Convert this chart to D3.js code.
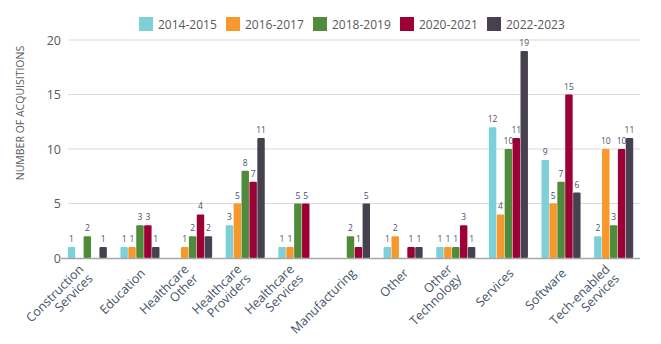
<!DOCTYPE html>
<html>
<head>
<meta charset="utf-8">
<script src="https://cdn.jsdelivr.net/npm/d3@7"></script>
<style>
  body { margin: 0; background: #fff; }
  text { font-family: "Open Sans", "Noto Sans", sans-serif; }
</style>
</head>
<body>
<svg></svg>
<script>
const WIDTH = 661;
const HEIGHT = 344;

// categories, with the line breaks used on the axis
const categories = ['Construction Services', 'Education', 'Healthcare Other',
  'Healthcare Providers', 'Healthcare Services', 'Manufacturing', 'Other',
  'Other Technology', 'Services', 'Software', 'Tech-enabled Services'];
const categoryLines = [['Construction', 'Services'], ['Education'], ['Healthcare', 'Other'],
  ['Healthcare', 'Providers'], ['Healthcare', 'Services'], ['Manufacturing'], ['Other'],
  ['Other', 'Technology'], ['Services'], ['Software'], ['Tech-enabled', 'Services']];

const periods = ['2014-2015', '2016-2017', '2018-2019', '2020-2021', '2022-2023'];
const colors = ['#7dd0d7', '#f7982d', '#508a3b', '#9c0034', '#47414f'];

// one array per period, in category order
const v2014 = [1, 1, 0, 3, 1, 0, 1, 1, 12, 9, 2];
const v2016 = [0, 1, 1, 5, 1, 0, 2, 1, 4, 5, 10];
const v2018 = [2, 3, 2, 8, 5, 2, 0, 1, 10, 7, 3];
const v2020 = [0, 3, 4, 7, 5, 1, 1, 3, 11, 15, 10];
const v2022 = [1, 1, 2, 11, 0, 5, 1, 1, 19, 6, 11];
const series = [v2014, v2016, v2018, v2020, v2022];

const yTicks = [0, 5, 10, 15, 20];

const svg = d3.select('svg')
    .attr('width', WIDTH)
    .attr('height', HEIGHT);

const x = d3.scaleBand()
    .domain(categories)
    .range([61, 640])
    .paddingInner(0.24)
    .paddingOuter(0.12);

const xSub = d3.scaleBand()
    .domain(periods)
    .range([0, x.bandwidth()])
    .padding(0.06);

const y = d3.scaleLinear()
    .domain([0, 20])
    .range([258, 40]);

// gridlines
svg.append('g')
  .selectAll('line')
  .data(yTicks.filter((d) => d > 0))
  .join('line')
    .attr('x1', 68)
    .attr('x2', 640)
    .attr('y1', (d) => y(d))
    .attr('y2', (d) => y(d))
    .attr('stroke', '#d9d9d9')
    .attr('stroke-width', 1.2);

// y axis labels
const yAxis = svg.append('g')
    .attr('transform', 'translate(61,0)')
    .call(d3.axisLeft(y).tickValues(yTicks).tickSize(0).tickPadding(0));
yAxis.select('.domain').remove();
yAxis.selectAll('text')
    .attr('font-size', 12.5)
    .attr('fill', '#595959');

svg.append('text')
    .attr('transform', 'translate(24,113) rotate(-90)')
    .attr('text-anchor', 'middle')
    .attr('font-size', 10.5)
    .attr('fill', '#595959')
    .text('NUMBER OF ACQUISITIONS');

// bars
const rows = categories.map((c, i) => ({
  cat: c,
  vals: periods.map((p, j) => ({ period: p, value: series[j][i], color: colors[j] })),
}));

const groups = svg.append('g')
  .selectAll('g')
  .data(rows)
  .join('g')
    .attr('transform', (d) => `translate(${x(d.cat)},0)`);

groups.selectAll('rect')
  .data((d) => d.vals.filter((v) => v.value > 0))
  .join('rect')
    .attr('x', (d) => xSub(d.period))
    .attr('y', (d) => y(d.value))
    .attr('width', xSub.bandwidth())
    .attr('height', (d) => y(0) - y(d.value))
    .attr('rx', 1)
    .attr('fill', (d) => d.color);

groups.selectAll('text')
  .data((d) => d.vals.filter((v) => v.value > 0))
  .join('text')
    .attr('x', (d) => xSub(d.period) + xSub.bandwidth() / 2)
    .attr('y', (d) => y(d.value) - 5)
    .attr('text-anchor', 'middle')
    .attr('font-size', 8.5)
    .attr('fill', '#4b4f6b')
    .text((d) => d.value);

// baseline
svg.append('line')
    .attr('x1', 61)
    .attr('x2', 640)
    .attr('y1', y(0) + 0.5)
    .attr('y2', y(0) + 0.5)
    .attr('stroke', '#a6a6a6')
    .attr('stroke-width', 1.3);

// x labels, rotated, right aligned
const xLabels = svg.append('g')
  .selectAll('text')
  .data(categories)
  .join('text')
    .attr('transform', (d, i) => {
      const cx = x(d) + x.bandwidth() / 2;
      const two = categoryLines[i].length > 1;
      return `translate(${cx + (two ? -3 : 6)},${two ? 270 : 274}) rotate(-45)`;
    })
    .attr('text-anchor', 'end')
    .attr('font-size', 12.5)
    .attr('fill', '#44546a');

xLabels.selectAll('tspan')
  .data((d, i) => categoryLines[i])
  .join('tspan')
    .attr('x', 0)
    .attr('dy', (d, i) => (i === 0 ? 0 : 13))
    .text((d) => d);

// legend
const legend = svg.append('g')
  .selectAll('g')
  .data(periods)
  .join('g')
    .attr('transform', (d, i) => `translate(${139 + i * 87},17)`);

legend.append('rect')
    .attr('width', 14)
    .attr('height', 14)
    .attr('fill', (d, i) => colors[i]);

legend.append('text')
    .attr('x', 19)
    .attr('y', 11.5)
    .attr('font-size', 12)
    .attr('fill', '#595959')
    .text((d) => d);
</script>
</body>
</html>
